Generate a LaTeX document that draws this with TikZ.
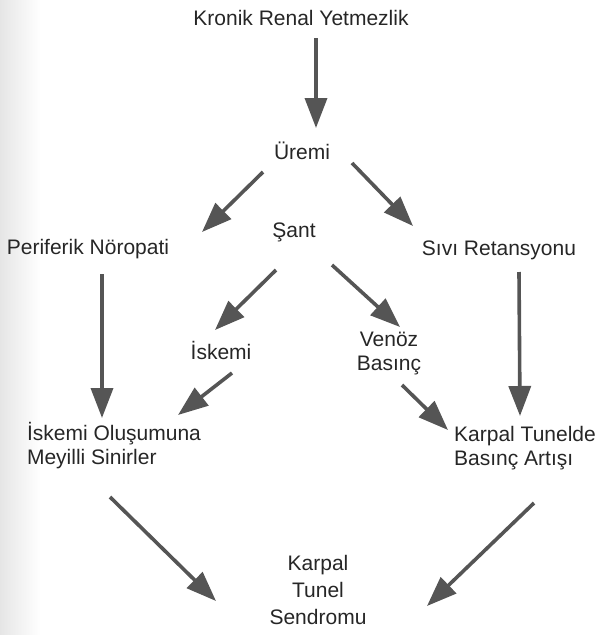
\documentclass[tikz,border=0pt]{standalone}
\usepackage{fontspec}
\setmainfont{Liberation Sans}
\usetikzlibrary{arrows.meta}
\definecolor{txt}{HTML}{262626}
\definecolor{arrc}{HTML}{555555}
\tikzset{
  lbl/.style={inner sep=0pt, text=txt, font=\fontsize{21}{24}\selectfont},
  arr/.style={draw=arrc, line width=3.6pt, -{Triangle[length=30pt,width=22pt]}, arrc},
}
\begin{document}
\begin{tikzpicture}[x=1pt,y=-1pt]
\useasboundingbox (0,0) rectangle (605,635);
\shade[left color=black!10, right color=white] (0,0) rectangle (40,635);
% nodes
\node[lbl] (kry) at (301,18) {Kronik Renal Yetmezlik};
\node[lbl] (ure) at (302,151) {Üremi};
\node[lbl] (per) at (88,249) {Periferik Nöropati};
\node[lbl] (sant) at (294,232) {Şant};
\node[lbl] (siv) at (499,250) {Sıvı Retansyonu};
\node[lbl] (isk) at (221,350) {İskemi};
\node[lbl, align=center] (ven) at (389,353) {Venöz\\Basınç};
\node[lbl, align=left] (iom) at (114,446) {İskemi Oluşumuna\\Meyilli Sinirler};
\node[lbl, align=left] (ktb) at (525,448) {Karpal Tunelde\\Basınç Artışı};
\node[lbl, align=center, font=\fontsize{21}{27}\selectfont] (kts) at (318,590) {Karpal\\Tunel\\Sendromu};
% connectors
\draw[arr] ([shift={(15,20)}]kry.center) -- ([shift={(14,-23)}]ure.center);
\draw[arr] ([shift={(-39,21)}]ure.center) -- ([shift={(114,-17)}]per.center);
\draw[arr] ([shift={(50,12)}]ure.center) -- ([shift={(-86,-24)}]siv.center);
\draw[arr] ([shift={(14,25)}]per.center) -- ([shift={(-12,-28)}]iom.center);
\draw[arr] ([shift={(20,22)}]siv.center) -- ([shift={(-5,-32)}]ktb.center);
\draw[arr] ([shift={(-18,38)}]sant.center) -- ([shift={(-6,-20)}]isk.center);
\draw[arr] ([shift={(38,33)}]sant.center) -- ([shift={(11,-26)}]ven.center);
\draw[arr] ([shift={(11,23)}]isk.center) -- ([shift={(64,-31)}]iom.center);
\draw[arr] ([shift={(13,32)}]ven.center) -- ([shift={(-77,-18)}]ktb.center);
\draw[arr] ([shift={(-4,51)}]iom.center) -- ([shift={(-102,11)}]kts.center);
\draw[arr] ([shift={(9,55)}]ktb.center) -- ([shift={(109,16)}]kts.center);
\end{tikzpicture}
\end{document}
